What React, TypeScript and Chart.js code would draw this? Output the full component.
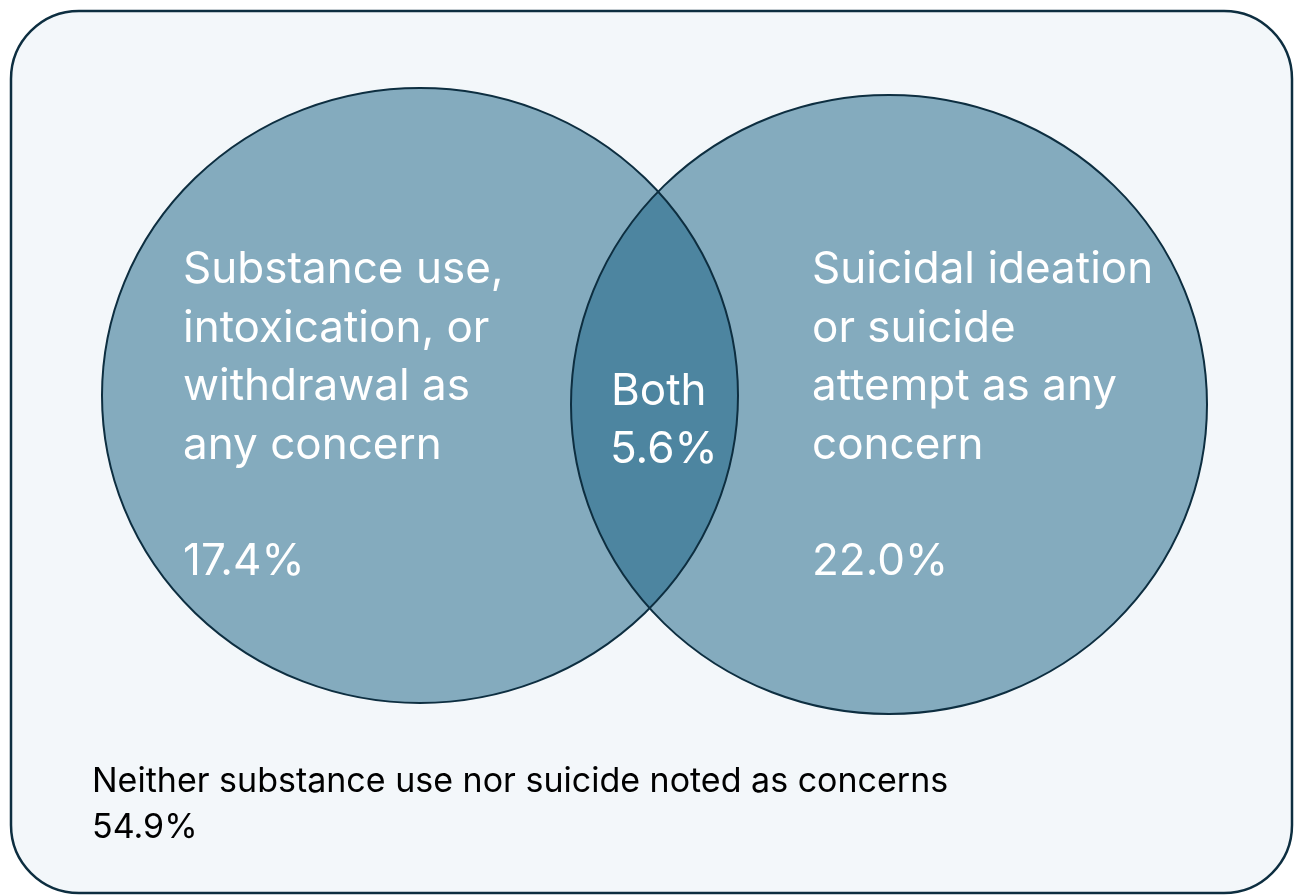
import React, { useEffect, useRef } from "react";
import { Chart, registerables } from "chart.js";

Chart.register(...registerables);

// ---- data ----
const setNames = ["Substance use", "Suicidal ideation"];
const setLabels = [
  ["Substance use,", "intoxication, or", "withdrawal as", "any concern"],
  ["Suicidal ideation", "or suicide", "attempt as any", "concern"],
];
const onlyValues = [17.4, 22.0];
const bothLabel = "Both";
const bothValue = 5.6;
const neitherLabel = "Neither substance use nor suicide noted as concerns";
const neitherValue = 54.9;

// ---- geometry (scale units) ----
const centersX = [420, 889];
const centersY = [395.5, 404.5];
const radiiX = [318, 318];
const radiiY = [307.5, 309.5];

const FONT = "Inter, 'Open Sans', sans-serif";
const FILL = "rgba(21,96,130,0.5)";
const STROKE = "#0d2e40";

const vennPlugin = {
  id: "venn",
  beforeDatasetsDraw(chart: any) {
    const { ctx, scales } = chart;
    const xs = scales.x;
    const ys = scales.y;
    // frame
    ctx.save();
    ctx.fillStyle = "#ffffff";
    ctx.fillRect(0, 0, chart.width, chart.height);
    const fx0 = xs.getPixelForValue(11), fx1 = xs.getPixelForValue(1292);
    const fy0 = ys.getPixelForValue(11), fy1 = ys.getPixelForValue(893);
    ctx.beginPath();
    ctx.roundRect(fx0, fy0, fx1 - fx0, fy1 - fy0, 68);
    ctx.fillStyle = "#f3f7fa";
    ctx.fill();
    ctx.lineWidth = 2.5;
    ctx.strokeStyle = STROKE;
    ctx.stroke();

    const ell = (i: number) => {
      const cx = xs.getPixelForValue(centersX[i]);
      const cy = ys.getPixelForValue(centersY[i]);
      const rx = Math.abs(xs.getPixelForValue(centersX[i] + radiiX[i]) - cx);
      const ry = Math.abs(ys.getPixelForValue(centersY[i] + radiiY[i]) - cy);
      ctx.beginPath();
      ctx.ellipse(cx, cy, rx, ry, 0, 0, Math.PI * 2);
    };
    for (let i = 0; i < 2; i++) {
      ell(i);
      ctx.fillStyle = FILL;
      ctx.fill();
    }
    for (let i = 0; i < 2; i++) {
      ell(i);
      ctx.lineWidth = 2;
      ctx.strokeStyle = STROKE;
      ctx.stroke();
    }

    // texts
    ctx.textAlign = "left";
    ctx.textBaseline = "alphabetic";
    ctx.fillStyle = "#ffffff";
    ctx.font = `44px ${FONT}`;
    const lx = [183, 812];
    for (let i = 0; i < 2; i++) {
      setLabels[i].forEach((line, j) => {
        ctx.fillText(line, xs.getPixelForValue(lx[i]), ys.getPixelForValue(283 + j * 58.5));
      });
      ctx.fillText(onlyValues[i].toFixed(1) + "%", xs.getPixelForValue(lx[i]), ys.getPixelForValue(575));
    }
    ctx.fillText(bothLabel, xs.getPixelForValue(611), ys.getPixelForValue(405));
    ctx.fillText(bothValue.toFixed(1) + "%", xs.getPixelForValue(610), ys.getPixelForValue(463));

    ctx.fillStyle = "#000000";
    ctx.font = `34px ${FONT}`;
    ctx.fillText(neitherLabel, xs.getPixelForValue(92), ys.getPixelForValue(792));
    ctx.fillText(neitherValue.toFixed(1) + "%", xs.getPixelForValue(92), ys.getPixelForValue(838));
    ctx.restore();
  },
};

export default function App() {
  const ref = useRef<HTMLCanvasElement>(null);
  useEffect(() => {
    document.body.style.margin = "0";
    const chart = new Chart(ref.current!, {
      type: "scatter",
      data: {
        datasets: setNames.map((n, i) => ({
          label: n,
          data: [{ x: centersX[i], y: centersY[i] }],
          pointRadius: 0,
        })),
      },
      options: {
        animation: false,
        responsive: false,
        events: [],
        layout: { padding: 0 },
        plugins: { legend: { display: false }, tooltip: { enabled: false } },
        scales: {
          x: { type: "linear", min: 0, max: 1295, display: false },
          y: { type: "linear", min: 0, max: 895, reverse: true, display: false },
        },
      },
      plugins: [vennPlugin],
    });
    return () => chart.destroy();
  }, []);
  return (
    <div style={{ position: "absolute", left: 0, top: 0, width: 1295, height: 895 }}>
      <canvas ref={ref} width={1295} height={895} style={{ width: 1295, height: 895 }} />
    </div>
  );
}
